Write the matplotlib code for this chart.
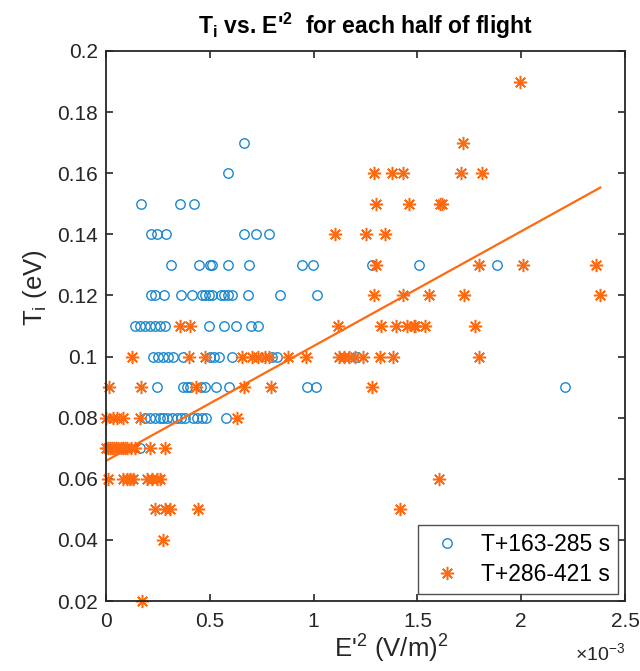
import numpy as np
import matplotlib
matplotlib.use('Agg')
import matplotlib.pyplot as plt
from matplotlib.ticker import FuncFormatter, FormatStrFormatter

plt.rcParams['font.family'] = ['Liberation Sans', 'DejaVu Sans']
plt.rcParams['mathtext.fontset'] = 'custom'
plt.rcParams['mathtext.rm'] = 'Liberation Sans'
plt.rcParams['mathtext.it'] = 'Liberation Sans:italic'
plt.rcParams['mathtext.bf'] = 'Liberation Sans:bold'

# first half of flight, T+163-285 s : E'^2 in units of 1e-3 (V/m)^2, Ti in eV
E1 = [0.665,
      0.590,
      0.167, 0.357, 0.423,
      0.215, 0.247, 0.288, 0.665, 0.724, 0.784,
      0.313, 0.448, 0.501, 0.509, 0.590, 0.687, 0.946, 0.999, 1.28, 1.51, 1.885,
      0.215, 0.236, 0.281, 0.36, 0.416, 0.461, 0.477, 0.496, 0.512, 0.554, 0.570,
      0.589, 0.608, 0.682, 0.84, 1.017,
      0.140, 0.164, 0.188, 0.212, 0.236, 0.260, 0.284, 0.496, 0.569, 0.627, 0.699, 0.731,
      0.225, 0.249, 0.273, 0.297, 0.321, 0.373, 0.501, 0.522, 0.544, 0.605, 0.799, 0.822, 1.21,
      0.244, 0.373, 0.389, 0.405, 0.456, 0.477, 0.528, 0.593, 0.967, 1.01, 2.209,
      0.188, 0.212, 0.236, 0.260, 0.276, 0.295, 0.316, 0.340, 0.359, 0.381, 0.418,
      0.437, 0.461, 0.482, 0.576,
      0.164]
T1 = [0.17,
      0.16,
      0.15, 0.15, 0.15,
      0.14, 0.14, 0.14, 0.14, 0.14, 0.14,
      0.13, 0.13, 0.13, 0.13, 0.13, 0.13, 0.13, 0.13, 0.13, 0.13, 0.13,
      0.12, 0.12, 0.12, 0.12, 0.12, 0.12, 0.12, 0.12, 0.12, 0.12, 0.12,
      0.12, 0.12, 0.12, 0.12, 0.12,
      0.11, 0.11, 0.11, 0.11, 0.11, 0.11, 0.11, 0.11, 0.11, 0.11, 0.11, 0.11,
      0.10, 0.10, 0.10, 0.10, 0.10, 0.10, 0.10, 0.10, 0.10, 0.10, 0.10, 0.10, 0.10,
      0.09, 0.09, 0.09, 0.09, 0.09, 0.09, 0.09, 0.09, 0.09, 0.09, 0.09,
      0.08, 0.08, 0.08, 0.08, 0.08, 0.08, 0.08, 0.08, 0.08, 0.08, 0.08,
      0.08, 0.08, 0.08, 0.08,
      0.07]

# second half of flight, T+286-421 s
E2 = [1.992,
      1.719,
      1.293, 1.379, 1.429, 1.709, 1.812,
      1.30, 1.46, 1.61, 1.618,
      1.104, 1.251, 1.343,
      1.30, 1.797, 2.008, 2.36,
      1.293, 1.43, 1.557, 1.725, 2.381,
      0.357, 0.405, 1.116, 1.325, 1.395, 1.452, 1.484, 1.49, 1.537, 1.777,
      0.124, 0.401, 0.477, 0.654, 0.702, 0.734, 0.766, 0.786, 0.879, 0.964,
      1.12, 1.147, 1.172, 1.20, 1.24, 1.32, 1.381, 1.797,
      0.014, 0.167, 0.432, 0.666, 0.793, 1.28,
      0.0, 0.032, 0.051, 0.080, 0.164, 0.633,
      0.0, 0.01, 0.02, 0.03, 0.04, 0.05, 0.06, 0.07, 0.08, 0.09, 0.10, 0.12, 0.14,
      0.212, 0.284,
      0.011, 0.083, 0.10, 0.116, 0.132, 0.196, 0.22, 0.244, 0.26, 1.605,
      0.236, 0.284, 0.308, 0.442, 1.417,
      0.273,
      0.172]
T2 = [0.19,
      0.17,
      0.16, 0.16, 0.16, 0.16, 0.16,
      0.15, 0.15, 0.15, 0.15,
      0.14, 0.14, 0.14,
      0.13, 0.13, 0.13, 0.13,
      0.12, 0.12, 0.12, 0.12, 0.12,
      0.11, 0.11, 0.11, 0.11, 0.11, 0.11, 0.11, 0.11, 0.11, 0.11,
      0.10, 0.10, 0.10, 0.10, 0.10, 0.10, 0.10, 0.10, 0.10, 0.10,
      0.10, 0.10, 0.10, 0.10, 0.10, 0.10, 0.10, 0.10,
      0.09, 0.09, 0.09, 0.09, 0.09, 0.09,
      0.08, 0.08, 0.08, 0.08, 0.08, 0.08,
      0.07, 0.07, 0.07, 0.07, 0.07, 0.07, 0.07, 0.07, 0.07, 0.07, 0.07, 0.07, 0.07,
      0.07, 0.07,
      0.06, 0.06, 0.06, 0.06, 0.06, 0.06, 0.06, 0.06, 0.06, 0.06,
      0.05, 0.05, 0.05, 0.05, 0.05,
      0.04,
      0.02]

x1 = np.array(E1) * 1e-3
y1 = np.array(T1)
x2 = np.array(E2) * 1e-3
y2 = np.array(T2)

blue = '#1a88cf'
orange = '#ff6a10'
dark = '#262626'

fig = plt.figure(figsize=(6.4, 6.71), dpi=100)
ax = fig.add_axes([0.1656, 0.1043, 0.811, 0.8197])

ax.plot(x1, y1, 'o', mfc='none', mec=blue, ms=6.8, mew=1.0, clip_on=False,
        label='T+163-285 s')
ax.plot(x2, y2, ls='none', marker=(8, 2, 0), mec=orange, ms=9.5, mew=1.1,
        color=orange, clip_on=False, label='T+286-421 s')

# least squares line through the second half
m, c = np.polyfit(x2, y2, 1)
xf = np.array([x2.min(), x2.max()])
ax.plot(xf, m * xf + c, color=orange, lw=1.6)

ax.set_xlim(0, 2.5e-3)
ax.set_ylim(0.02, 0.2)
ax.set_xticks(np.arange(0, 2.51e-3, 0.5e-3))
ax.set_yticks(np.arange(0.02, 0.201, 0.02))
ax.xaxis.set_major_formatter(FuncFormatter(lambda v, p: '%g' % round(v * 1e3, 6)))
ax.yaxis.set_major_formatter(FormatStrFormatter('%g'))
ax.text(1.0, -0.075, r'$\times$10$^{-3}$', transform=ax.transAxes,
        ha='right', va='top', fontsize=14, color=dark)

ax.tick_params(direction='in', top=True, right=True, length=5, width=1.2,
               labelsize=15, colors=dark)
ax.tick_params(axis='x', pad=8)
ax.tick_params(axis='y', pad=6)
for s in ax.spines.values():
    s.set_linewidth(1.3)
    s.set_color(dark)

ax.set_xlabel("E$'^2$ (V/m)$^2$", fontsize=18.5, color=dark, labelpad=0)
ax.xaxis.set_label_coords(0.55, -0.058, transform=ax.transAxes)
ax.xaxis.label.set_va('top')
ax.set_ylabel("T$_\\mathrm{i}$ (eV)", fontsize=18.5, color=dark)
ax.yaxis.set_label_coords(-0.11, 0.57, transform=ax.transAxes)

ax.set_title("T$_\\mathbf{i}$ vs. E$\\mathbf{'^2}$  for each half of flight",
             fontsize=16.5, fontweight='bold', pad=12)

leg = ax.legend(loc='lower right', fontsize=16.5, frameon=True, fancybox=False,
                edgecolor=dark, borderaxespad=0.3, handletextpad=0.6,
                handlelength=1.8, borderpad=0.35, labelspacing=0.3)
leg.get_frame().set_linewidth(1.0)

fig.savefig('out.png', dpi=100)
